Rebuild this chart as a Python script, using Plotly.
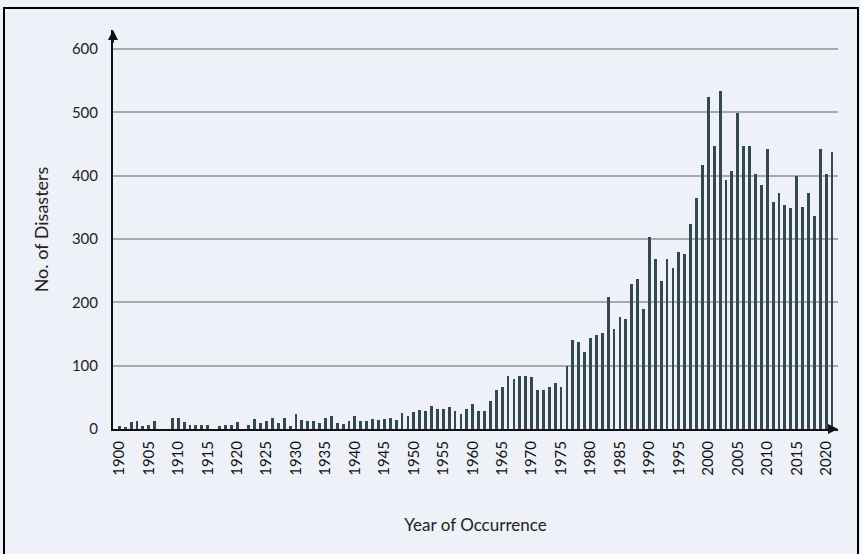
import plotly.graph_objects as go

# Annual number of recorded disasters, 1900-2021
years = list(range(1900, 2022))
disasters = [
    5, 2, 11, 12, 5, 7, 12, 0, 0, 17,          # 1900-1909
    17, 11, 7, 6, 6, 7, 0, 5, 6, 6,            # 1910-1919
    11, 0, 6, 16, 9, 12, 17, 9, 17, 5,         # 1920-1929
    24, 15, 13, 12, 9, 17, 20, 9, 8, 13,       # 1930-1939
    21, 12, 12, 16, 14, 16, 17, 14, 25, 21,    # 1940-1949
    27, 30, 29, 37, 32, 32, 35, 29, 24, 32,    # 1950-1959
    39, 29, 29, 45, 62, 67, 83, 79, 84, 84,    # 1960-1969
    82, 62, 62, 66, 73, 67, 100, 140, 137, 122,  # 1970-1979
    144, 148, 152, 208, 158, 177, 174, 229, 237, 190,  # 1980-1989
    303, 268, 233, 268, 255, 279, 276, 324, 365, 417,  # 1990-1999
    525, 447, 533, 393, 407, 499, 447, 447, 402, 386,  # 2000-2009
    442, 358, 372, 354, 349, 400, 351, 372, 337, 442,  # 2010-2019
    402, 437,                                          # 2020-2021
]
assert len(disasters) == len(years)

x_ticks = list(range(1900, 2021, 5))
y_ticks = [0, 100, 200, 300, 400, 500, 600]

BG = "#eef2f8"
BAR = "#34494f"
GRID = "#a3abae"
FONT = "Lato, 'Open Sans', sans-serif"

fig = go.Figure()
fig.add_trace(go.Bar(
    x=years, y=disasters, width=0.48,
    marker=dict(color=BAR, line=dict(width=0)),
    showlegend=False,
))

fig.update_layout(
    width=861, height=554,
    margin=dict(l=113, r=23, t=30, b=125),
    paper_bgcolor=BG, plot_bgcolor=BG,
    font=dict(family=FONT, color="#222222"),
    bargap=0,
    xaxis=dict(
        range=[1898.93, 2022.02],
        tickmode="array", tickvals=x_ticks, ticktext=[str(v) for v in x_ticks],
        tickangle=-90, tickfont=dict(size=15, color="#111111", family=FONT),
        showgrid=False, zeroline=False,
        showline=True, linecolor="#111111", linewidth=2,
        ticks="", ticklabelstandoff=4,
        title=dict(text="Year of Occurrence", font=dict(size=17, color="#222222"), standoff=44),
    ),
    yaxis=dict(
        range=[0, 630],
        tickmode="array", tickvals=y_ticks,
        tickfont=dict(size=15, color="#222222", family=FONT),
        showgrid=True, gridcolor=GRID, gridwidth=1.5,
        zeroline=False,
        showline=True, linecolor="#111111", linewidth=2,
        ticks="", ticklabelstandoff=10,
        title=dict(text="No. of Disasters", font=dict(size=18, color="#222222"), standoff=19),
    ),
)

# arrow heads at the ends of both axes
fig.add_annotation(xref="paper", yref="paper", x=0, y=1.0, ax=0, ay=14,
                   showarrow=True, arrowhead=2, arrowsize=1, arrowwidth=2,
                   arrowcolor="#111111", text="")
fig.add_annotation(xref="paper", yref="paper", x=1.0, y=0, ax=-10, ay=0,
                   showarrow=True, arrowhead=2, arrowsize=1, arrowwidth=2,
                   arrowcolor="#111111", text="")

# outer frame around the figure
W, H = 861, 554
pw, ph = W - 113 - 23, H - 30 - 125
def px_to_paper_x(px):
    return (px - 113) / pw
def px_to_paper_y(py):
    return (H - 125 - py) / ph
fig.add_shape(type="rect", xref="paper", yref="paper",
              x0=px_to_paper_x(4), x1=px_to_paper_x(858),
              y0=px_to_paper_y(560), y1=px_to_paper_y(8),
              line=dict(color="#000000", width=2), fillcolor="rgba(0,0,0,0)",
              layer="above")

fig.write_html("out.html")
